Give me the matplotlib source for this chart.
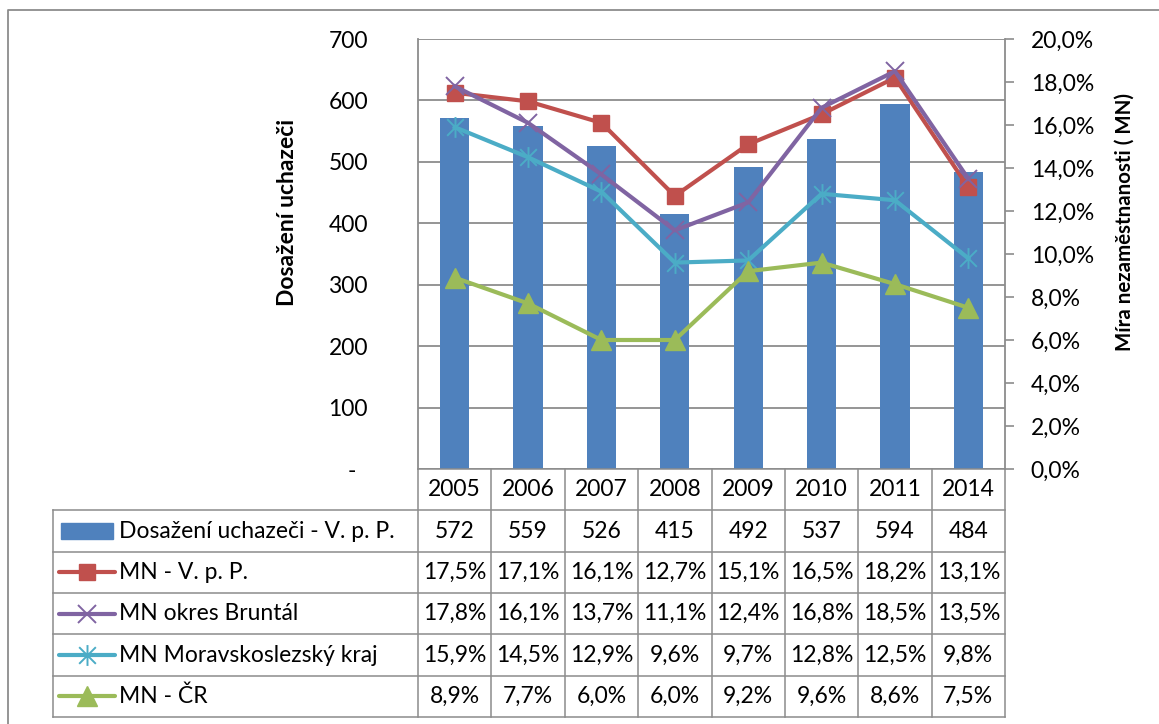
import matplotlib
matplotlib.use('Agg')
import matplotlib.pyplot as plt
from matplotlib.ticker import FuncFormatter, MultipleLocator
import matplotlib.transforms as mtrans
from matplotlib.path import Path
from matplotlib.patches import Rectangle

# ---------------- data ----------------
years = ['2005', '2006', '2007', '2008', '2009', '2010', '2011', '2014']
placed = [572, 559, 526, 415, 492, 537, 594, 484]
mn_vpp = [17.5, 17.1, 16.1, 12.7, 15.1, 16.5, 18.2, 13.1]
mn_bruntal = [17.8, 16.1, 13.7, 11.1, 12.4, 16.8, 18.5, 13.5]
mn_msk = [15.9, 14.5, 12.9, 9.6, 9.7, 12.8, 12.5, 9.8]
mn_cr = [8.9, 7.7, 6.0, 6.0, 9.2, 9.6, 8.6, 7.5]
series_names = ['Dosažení uchazeči - V. p. P.', 'MN - V. p. P.', 'MN okres Bruntál',
                'MN Moravskoslezský kraj', 'MN - ČR']
left_label = 'Dosažení uchazeči'
right_label = 'Míra nezaměstnanosti ( MN)'

plt.rcParams['font.family'] = ['Lato', 'DejaVu Sans']
FS = 16.5
W, H = 1159, 724
fig = plt.figure(figsize=(W / 100, H / 100), dpi=100)

BLUE = '#4F81BD'
RED = '#C0504D'
PURPLE = '#8064A2'
CYAN = '#4BACC6'
GREEN = '#9BBB59'
GRID = '#8c8c8c'

# plot area in pixels
PL, PR, PT, PB = 418, 1005, 39, 469
ax = fig.add_axes([PL / W, 1 - PB / H, (PR - PL) / W, (PB - PT) / H])
x = list(range(len(years)))
ax.bar(x, placed, width=0.4, color=BLUE, zorder=2)
ax.set_xlim(-0.5, len(years) - 0.5)
ax.set_ylim(0, 700)
ax.yaxis.set_major_locator(MultipleLocator(100))
ax.yaxis.grid(True, color=GRID, lw=1.3, zorder=0)
ax.set_axisbelow(True)
ax.set_xticks([])
ax.tick_params(axis='y', length=0, pad=36, labelsize=FS)
ax.yaxis.set_major_formatter(FuncFormatter(lambda v, p: '-' if v == 0 else f'{int(v)}'))
for s in ['top', 'bottom', 'right']:
    ax.spines[s].set_visible(False)
ax.spines['left'].set_color(GRID)
ax.spines['left'].set_linewidth(1.3)

ax2 = ax.twinx()
ax2.set_ylim(0, 20)
ax2.yaxis.set_major_locator(MultipleLocator(2))
ax2.yaxis.set_major_formatter(FuncFormatter(lambda v, p: f'{v:.1f}'.replace('.', ',') + '%'))
ax2.tick_params(axis='y', direction='out', length=6.5, width=1.2, color=GRID, pad=12, labelsize=FS)
for s in ['top', 'bottom', 'left']:
    ax2.spines[s].set_visible(False)
ax2.spines['right'].set_color(GRID)
ax2.spines['right'].set_linewidth(1.3)

# asterisk marker (x + vertical)
star = Path([(0, -1), (0, 1), (-0.8, -0.8), (0.8, 0.8), (-0.8, 0.8), (0.8, -0.8)],
            [Path.MOVETO, Path.LINETO, Path.MOVETO, Path.LINETO, Path.MOVETO, Path.LINETO])

LW = 3.0
styles = [
    dict(color=RED, marker='s', ms=12, mec=RED, mfc=RED),
    dict(color=PURPLE, marker='x', ms=13, mew=1.4, mec=PURPLE, mfc=PURPLE),
    dict(color=CYAN, marker=star, ms=15, mew=1.4, mfc='none', mec=CYAN),
    dict(color=GREEN, marker='^', ms=14, mec=GREEN, mfc=GREEN),
]
for vals, st in zip([mn_vpp, mn_bruntal, mn_msk, mn_cr], styles):
    ax2.plot(x, vals, lw=LW, zorder=3, clip_on=False, **st)

# axis titles
fig.text(287 / W, 1 - 212 / H, left_label, rotation=90, ha='center', va='center',
         fontsize=FS, fontweight='bold')
fig.text(1125 / W, 1 - 222 / H, right_label, rotation=90, ha='center', va='center',
         fontsize=14.8, fontweight='bold')

# shift the "-" zero label a bit left
fig.canvas.draw()
for lab in ax.get_yticklabels():
    if lab.get_text() == '-':
        lab.set_transform(lab.get_transform() + mtrans.ScaledTranslation(-12 / 100, 0, fig.dpi_scale_trans))

# ---------------- data table ----------------
TB = 717
tab = fig.add_axes([PL / W, 1 - TB / H, (PR - PL) / W, (TB - PB) / H])
tab.set_xlim(-0.5, len(years) - 0.5)
tab.set_ylim(6, 0)
tab.axis('off')
colw = (PR - PL) / len(years)
def dx(px):
    return (px - PL) / colw - 0.5
LEFT = dx(53)
TL = dict(color=GRID, lw=1.1, clip_on=False)
tab.plot([-0.5, len(years) - 0.5], [0, 0], **TL)
for r in range(1, 7):
    tab.plot([LEFT, len(years) - 0.5], [r, r], **TL)
tab.plot([LEFT, LEFT], [1, 6], **TL)
for k in range(len(years) + 1):
    tab.plot([k - 0.5, k - 0.5], [0, 6], **TL)

for i, yv in enumerate(years):
    tab.text(i, 0.5, yv, ha='center', va='center', fontsize=FS)
rows = [
    [f'{v}' for v in placed],
    [f'{v:.1f}'.replace('.', ',') + '%' for v in mn_vpp],
    [f'{v:.1f}'.replace('.', ',') + '%' for v in mn_bruntal],
    [f'{v:.1f}'.replace('.', ',') + '%' for v in mn_msk],
    [f'{v:.1f}'.replace('.', ',') + '%' for v in mn_cr],
]
for r, row in enumerate(rows):
    for i, t in enumerate(row):
        tab.text(i, r + 1.5, t, ha='center', va='center', fontsize=FS)

# legend keys
tab.add_patch(Rectangle((dx(61), 1.5 - 0.19), dx(113) - dx(61), 0.38, color=BLUE, clip_on=False))
for r, st in enumerate(styles):
    yy = r + 2.5
    tab.plot([dx(59), dx(115)], [yy, yy], color=st['color'], lw=LW, solid_capstyle='round', clip_on=False)
    kw = {k: v for k, v in st.items() if k != 'color'}
    tab.plot([dx(87)], [yy], ls='none', clip_on=False, **kw)
for r, name in enumerate(series_names):
    tab.text(dx(119), r + 1.5, name, ha='left', va='center', fontsize=FS)

# outer chart border
ov = fig.add_axes([0, 0, 1, 1], zorder=-5)
ov.set_xlim(0, W)
ov.set_ylim(H, 0)
ov.axis('off')
ov.plot([8, 8, W], [H, 10, 10], color=GRID, lw=1.3)

fig.savefig('out.png', dpi=100)
